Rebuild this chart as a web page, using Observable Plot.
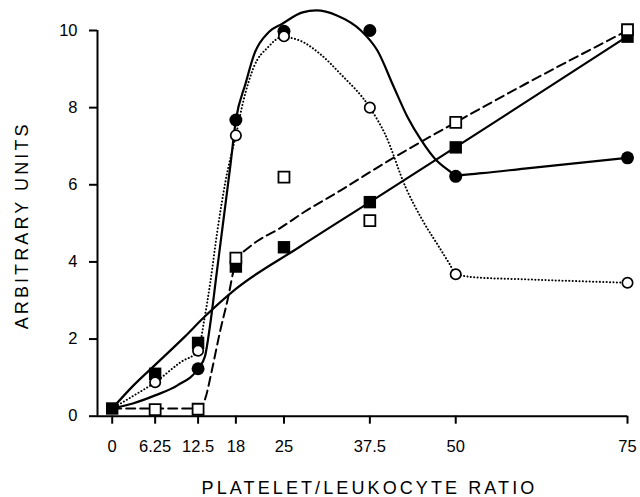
<!DOCTYPE html>
<html><head><meta charset="utf-8">
<script src="https://cdn.jsdelivr.net/npm/d3@7"></script>
<script src="https://cdn.jsdelivr.net/npm/@observablehq/plot@0.6"></script>
<style>
html,body{margin:0;padding:0;background:#fff;}
</style>
</head><body><div id="chart"></div>
<script>
// ---- axis ticks & titles ----
const xTicks = [0, 6.25, 12.5, 18, 25, 37.5, 50, 75];
const yTicks = [0, 2, 4, 6, 8, 10];
const xTitle = "PLATELET/LEUKOCYTE RATIO";
const yTitle = "ARBITRARY UNITS";

// ---- measured points ----
const filledSquareX = [0, 6.25, 12.5, 18, 25, 37.5, 50, 75];
const filledSquareY = [0.2, 1.10, 1.90, 3.88, 4.38, 5.55, 6.97, 9.84];
const filledCircleX = [12.5, 18, 25, 37.5, 50, 75];
const filledCircleY = [1.23, 7.68, 9.98, 10.0, 6.22, 6.70];
const openCircleX = [6.25, 12.5, 18, 25, 37.5, 50, 75];
const openCircleY = [0.88, 1.70, 7.28, 9.85, 8.0, 3.68, 3.46];
const openSquareX = [6.25, 12.5, 18, 25, 37.5, 50, 75];
const openSquareY = [0.17, 0.18, 4.10, 6.20, 5.07, 7.62, 10.02];

// ---- hand-fitted curves ----
const solidCircleCurveX = [0, 3, 6.25, 9.5, 12.5, 13.5, 14.2, 15.2, 16.2, 17.2, 18, 19.4, 20.7, 22.8, 24.7, 27.7, 29.7, 32.7, 36.2, 38.6, 41.0, 43, 45, 47, 49, 50, 53.8, 60, 75];
const solidCircleCurveY = [0.2, 0.33, 0.54, 0.8, 1.23, 1.55, 2.3, 3.7, 5.1, 6.5, 7.68, 8.62, 9.4, 9.96, 10.17, 10.47, 10.52, 10.39, 10.0, 9.48, 8.53, 7.75, 7.15, 6.67, 6.37, 6.25, 6.3, 6.42, 6.7];
const dottedCurveX = [0, 3, 6.25, 9.95, 12.5, 13.4, 14.3, 15.3, 16.5, 18, 19.1, 20.6, 22.7, 24.7, 27.3, 30.2, 33.2, 37.5, 39.7, 42.7, 45.2, 47.6, 49.1, 50, 52.9, 60, 75];
const dottedCurveY = [0.2, 0.52, 0.88, 1.4, 1.7, 2.5, 3.5, 4.8, 6.1, 7.28, 8.18, 9.05, 9.57, 9.83, 9.74, 9.4, 8.88, 8.0, 7.32, 5.94, 5.07, 4.38, 3.95, 3.69, 3.6, 3.55, 3.46];
const dashedCurveX = [0, 6.25, 12.5, 13.2, 13.7, 14.4, 15.7, 16.9, 17.7, 18.5, 19.5, 21.2, 24.2, 28, 33.2, 40, 50, 60, 75];
const dashedCurveY = [0.2, 0.2, 0.2, 0.3, 0.55, 1.1, 2.2, 3.1, 3.8, 4.15, 4.32, 4.55, 4.85, 5.3, 5.85, 6.6, 7.62, 8.6, 10.0];
const solidSquareCurveX = [0, 3, 6.25, 10.5, 13.4, 18, 27.2, 37.5, 53.8, 75];
const solidSquareCurveY = [0.2, 0.78, 1.33, 2.05, 2.57, 3.3, 4.38, 5.55, 7.41, 9.85];

const rows = (xs, ys) => xs.map((x, i) => ({x, y: ys[i]}));
const xDomain = [-2.14, 75];

const plot = Plot.plot({
  width: 640,
  height: 497,
  marginLeft: 97,
  marginRight: 13,
  marginTop: 30,
  marginBottom: 81.3,
  style: {fontFamily: "'Liberation Sans', Arial, Helvetica, sans-serif", background: "white", color: "black"},
  x: {domain: xDomain},
  y: {domain: [0, 10]},
  marks: [
    Plot.ruleY([0], {stroke: "black", strokeWidth: 2}),
    Plot.ruleX([xDomain[0]], {stroke: "black", strokeWidth: 2}),
    Plot.axisX(xTicks, {tickSize: 8, tickPadding: 16, strokeWidth: 2, fontSize: 16.5, tickFormat: d => String(d), label: null}),
    Plot.axisY(yTicks, {tickSize: 8, tickPadding: 12, strokeWidth: 2, fontSize: 16.5, label: null}),
    Plot.line(rows(solidSquareCurveX, solidSquareCurveY), {x: "x", y: "y", curve: "monotone-x", stroke: "black", strokeWidth: 2.2}),
    Plot.line(rows(dashedCurveX, dashedCurveY), {x: "x", y: "y", curve: "monotone-x", stroke: "black", strokeWidth: 2, strokeDasharray: "9,5"}),
    Plot.line(rows(dottedCurveX, dottedCurveY), {x: "x", y: "y", curve: "monotone-x", stroke: "black", strokeWidth: 2, strokeDasharray: "0.1,3.3", strokeLinecap: "round"}),
    Plot.line(rows(solidCircleCurveX, solidCircleCurveY), {x: "x", y: "y", curve: "monotone-x", stroke: "black", strokeWidth: 2.2}),
    Plot.dot(rows(filledSquareX, filledSquareY), {x: "x", y: "y", symbol: "square", r: 7, fill: "black", stroke: null}),
    Plot.dot(rows(filledCircleX, filledCircleY), {x: "x", y: "y", symbol: "circle", r: 6.5, fill: "black", stroke: null}),
    Plot.dot(rows(openCircleX, openCircleY), {x: "x", y: "y", symbol: "circle", r: 5.2, fill: "white", stroke: "black", strokeWidth: 1.7}),
    Plot.dot(rows(openSquareX, openSquareY), {x: "x", y: "y", symbol: "square", r: 6.2, fill: "white", stroke: "black", strokeWidth: 1.8}),
    Plot.text([xTitle], {frameAnchor: "bottom", textAnchor: "middle", lineAnchor: "bottom", dy: 77.5, dx: 7, fontSize: 18, fill: "black"}),
    Plot.text([yTitle], {frameAnchor: "left", textAnchor: "middle", lineAnchor: "top", rotate: -90, dx: -82, dy: 2, fontSize: 18, fill: "black"})
  ]
});
d3.select(plot).selectAll("text")
  .filter(function () { return this.textContent === xTitle || this.textContent === yTitle; })
  .style("letter-spacing", "3.1px");
document.getElementById("chart").appendChild(plot);
</script>
</body></html>
